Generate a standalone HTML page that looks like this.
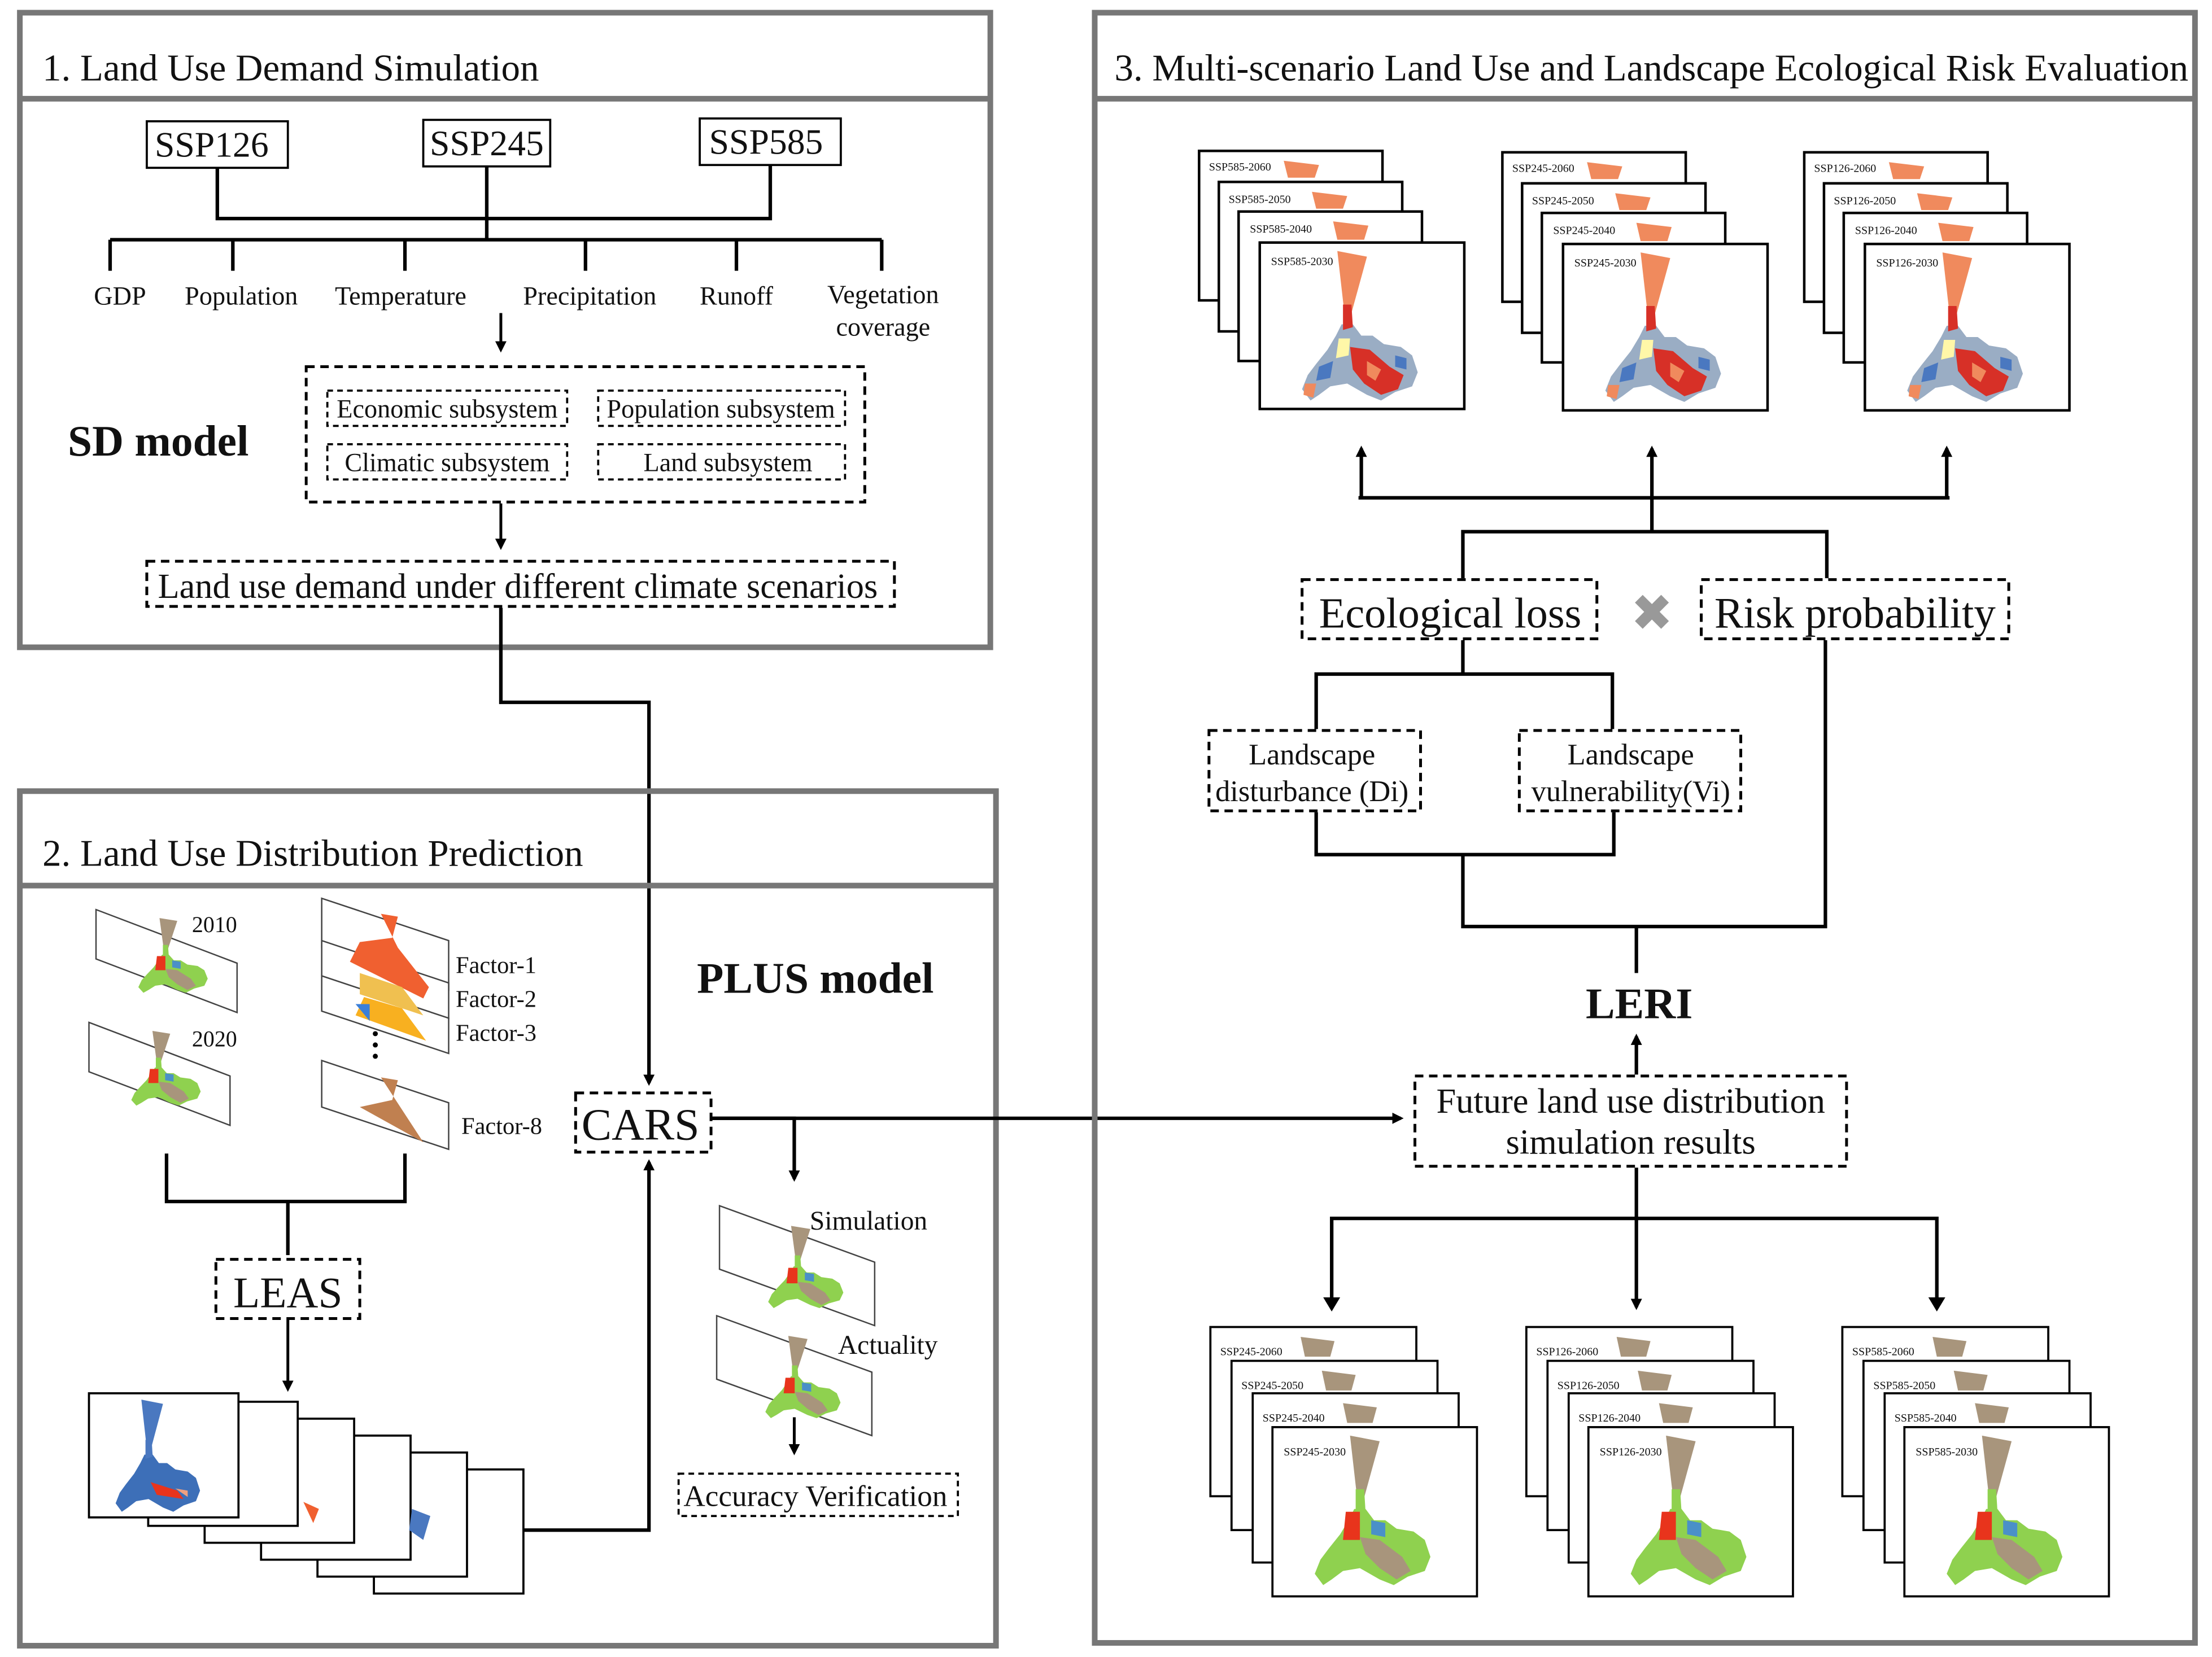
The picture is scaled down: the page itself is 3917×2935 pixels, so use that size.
<!DOCTYPE html>
<html><head><meta charset="utf-8"><style>
html,body{margin:0;padding:0;background:#fff}
svg{display:block}
text{font-family:"Liberation Serif",serif;fill:#111}
</style></head><body>
<svg width="3917" height="2935" viewBox="0 0 1568 1175" xmlns="http://www.w3.org/2000/svg">
<defs>
<marker id="ar" markerWidth="8" markerHeight="8" refX="6" refY="4" orient="auto" markerUnits="userSpaceOnUse"><path d="M0,0 L8,4 L0,8 z" fill="#000"/></marker>
<g id="riskmap">
<polygon points="55,6 76,10 65,50 60,50" fill="#f08a5d"/>
<path d="M58,58 L66,58 L72,66 L80,66 L88,72 L100,74 L108,80 L112,92 L108,102 L96,106 L86,112 L76,108 L62,100 L50,102 L42,108 L36,112 L30,104 L34,94 L40,86 L48,76 L54,66 Z" fill="#9aadc4"/>
<path d="M59,44 L65,44 L66,60 L59,62 Z" fill="#d73027"/>
<path d="M56,68 L64,68 L63,80 L54,82 Z" fill="#fff7a8"/>
<path d="M64,74 L78,76 L92,88 L102,94 L98,104 L86,108 L74,100 L66,90 Z" fill="#d73027"/>
<path d="M76,84 L86,90 L82,98 L76,94 Z" fill="#f08a5d"/>
<path d="M42,88 L52,84 L50,96 L40,98 Z" fill="#4a78c0"/>
<path d="M96,80 L104,82 L104,90 L96,88 Z" fill="#4a78c0"/>
<path d="M32,100 L40,100 L38,110 L31,108 Z" fill="#f08a5d"/>
</g>
<g id="lumap">
<polygon points="55,6 76,10 65,50 60,50" fill="#a8957c"/>
<path d="M58,58 L66,58 L72,66 L80,66 L88,72 L100,74 L108,80 L112,92 L108,102 L96,106 L86,112 L76,108 L62,100 L50,102 L42,108 L36,112 L30,104 L34,94 L40,86 L48,76 L54,66 Z" fill="#8fd14f"/>
<path d="M59,44 L65,44 L66,60 L59,62 Z" fill="#8fd14f"/>
<path d="M62,78 L76,80 L92,92 L98,102 L88,108 L76,100 L66,90 Z" fill="#a8957c"/>
<path d="M52,60 L62,60 L62,80 L50,80 Z" fill="#e8341c"/>
<path d="M70,66 L80,68 L80,78 L70,76 Z" fill="#4a90c8"/>
</g>
</defs>

<!-- Panel 1 -->
<rect x="14" y="9" width="688" height="450" fill="none" stroke="#777" stroke-width="4"/>
<line x1="14" y1="70" x2="702" y2="70" stroke="#777" stroke-width="4"/>
<text x="30" y="57" font-size="26.8">1. Land Use Demand Simulation</text>
<rect x="104" y="86" width="100" height="33" fill="none" stroke="#000" stroke-width="1.5"/>
<text x="150" y="111" font-size="25.5" text-anchor="middle">SSP126</text>
<rect x="300" y="85" width="90" height="33" fill="none" stroke="#000" stroke-width="1.5"/>
<text x="345" y="110" font-size="25.5" text-anchor="middle">SSP245</text>
<rect x="496" y="84" width="100" height="33" fill="none" stroke="#000" stroke-width="1.5"/>
<text x="543" y="109" font-size="25.5" text-anchor="middle">SSP585</text>
<g stroke="#000" stroke-width="2.5" fill="none">
<polyline points="154,119 154,155 546,155 546,117"/>
<line x1="345" y1="118" x2="345" y2="170"/>
<line x1="78" y1="170" x2="625" y2="170"/>
<line x1="78" y1="170" x2="78" y2="192"/>
<line x1="165" y1="170" x2="165" y2="192"/>
<line x1="287" y1="170" x2="287" y2="192"/>
<line x1="415" y1="170" x2="415" y2="192"/>
<line x1="522" y1="170" x2="522" y2="192"/>
<line x1="625" y1="170" x2="625" y2="192"/>
</g>
<g font-size="18.5" text-anchor="middle">
<text x="85" y="216">GDP</text><text x="171" y="216">Population</text><text x="284" y="216">Temperature</text>
<text x="418" y="216">Precipitation</text><text x="522" y="216">Runoff</text><text x="626" y="215">Vegetation</text><text x="626" y="238">coverage</text>
</g>
<line x1="355" y1="222" x2="355" y2="248" stroke="#000" stroke-width="2" marker-end="url(#ar)"/>
<rect x="217" y="260" width="396" height="96" fill="none" stroke="#000" stroke-width="2" stroke-dasharray="6,4"/>
<g fill="none" stroke="#000" stroke-width="1.5" stroke-dasharray="4,3">
<rect x="232" y="277" width="170" height="25"/><rect x="424" y="277" width="175" height="25"/>
<rect x="232" y="315" width="170" height="25"/><rect x="424" y="315" width="175" height="25"/>
</g>
<g font-size="18.5" text-anchor="middle">
<text x="317" y="296">Economic subsystem</text><text x="511" y="296">Population subsystem</text>
<text x="317" y="334">Climatic subsystem</text><text x="516" y="334">Land subsystem</text>
</g>
<text x="48" y="323" font-size="31" font-weight="bold">SD model</text>
<line x1="355" y1="357" x2="355" y2="388" stroke="#000" stroke-width="2" marker-end="url(#ar)"/>
<rect x="104" y="398" width="530" height="32" fill="none" stroke="#000" stroke-width="2" stroke-dasharray="6,4"/>
<text x="367" y="424" font-size="25" text-anchor="middle">Land use demand under different climate scenarios</text>
<polyline points="355,431 355,498 460,498 460,768" fill="none" stroke="#000" stroke-width="2.5" marker-end="url(#ar)"/>

<!-- Panel 2 -->
<rect x="14" y="561" width="692" height="606" fill="none" stroke="#777" stroke-width="4"/>
<line x1="14" y1="628" x2="706" y2="628" stroke="#777" stroke-width="4"/>
<text x="30" y="614" font-size="26.8">2. Land Use Distribution Prediction</text>
<text x="494" y="704" font-size="31" font-weight="bold">PLUS model</text>
<g stroke="#444" stroke-width="1" fill="#fff">
<polygon points="68,645 168,683 168,718 68,680"/>
<polygon points="63,725 163,763 163,798 63,760"/>
<polygon points="228,637 318,667 318,702 228,672"/>
<polygon points="228,667 318,697 318,722 228,692"/>
<polygon points="228,692 318,722 318,747 228,717"/>
<polygon points="228,752 318,782 318,815 228,785"/>
</g>
<g transform="translate(80,648) scale(0.6,0.5)"><use href="#lumap"/></g>
<g transform="translate(75,728) scale(0.6,0.5)"><use href="#lumap"/></g>
<path d="M270,648 L282,650 L278,665 L255,668 L248,682 L300,708 L304,700 L282,672 Z" fill="#f06030"/>
<path d="M255,690 L285,700 L300,720 L255,705 Z" fill="#f0c050"/>
<path d="M258,707 L285,715 L302,738 L252,720 Z" fill="#f8b020"/>
<path d="M252,712 L262,712 L262,724 Z" fill="#3b7fd8"/>
<path d="M270,764 L282,766 L278,780 L255,785 L300,810 Z" fill="#c08050"/>
<g font-size="16"><text x="136" y="661">2010</text><text x="136" y="742">2020</text></g>
<g font-size="17"><text x="323" y="690">Factor-1</text><text x="323" y="714">Factor-2</text><text x="323" y="738">Factor-3</text><text x="327" y="804">Factor-8</text></g>
<circle cx="266" cy="733" r="1.8" fill="#000"/><circle cx="266" cy="741" r="1.8" fill="#000"/><circle cx="266" cy="749" r="1.8" fill="#000"/>
<g stroke="#000" stroke-width="2.5" fill="none">
<polyline points="118,818 118,852 287,852 287,818"/>
<line x1="204" y1="852" x2="204" y2="890"/>
</g>
<rect x="153" y="893" width="102" height="42" fill="none" stroke="#000" stroke-width="2" stroke-dasharray="6,4"/>
<text x="204" y="927" font-size="31" text-anchor="middle">LEAS</text>
<line x1="204" y1="936" x2="204" y2="985" stroke="#000" stroke-width="2" marker-end="url(#ar)"/>
<g stroke="#000" stroke-width="1.5" fill="#fff">
<rect x="265" y="1042" width="106" height="88"/>
<rect x="225" y="1030" width="106" height="88"/>
<rect x="185" y="1018" width="106" height="88"/>
<rect x="145" y="1006" width="106" height="88"/>
<rect x="105" y="994" width="106" height="88"/>
<rect x="63" y="988" width="106" height="88"/>
</g>
<path d="M292,1070 L305,1075 L300,1092 L290,1085 Z" fill="#4a78c0"/>
<path d="M215,1065 L226,1070 L222,1080 Z" fill="#f06030"/>
<g transform="translate(60,988) scale(0.73,0.75)">
<polygon points="55,6 76,10 65,50 60,50" fill="#4a78c0"/>
<path d="M58,58 L66,58 L72,66 L80,66 L88,72 L100,74 L108,80 L112,92 L108,102 L96,106 L86,112 L76,108 L62,100 L50,102 L42,108 L36,112 L30,104 L34,94 L40,86 L48,76 L54,66 Z" fill="#3d6fb8"/>
<path d="M59,44 L65,44 L66,60 L59,62 Z" fill="#4a78c0"/>
<path d="M64,84 L90,92 L96,100 L70,96 Z" fill="#e8341c"/>
<path d="M88,90 L100,92 L100,98 Z" fill="#f0a080"/>
</g>
<polyline points="371,1085 460,1085 460,824" fill="none" stroke="#000" stroke-width="2.5" marker-end="url(#ar)"/>
<rect x="408" y="775" width="96" height="42" fill="none" stroke="#000" stroke-width="2" stroke-dasharray="6,4"/>
<text x="454" y="808" font-size="32" text-anchor="middle">CARS</text>
<line x1="505" y1="793" x2="993" y2="793" stroke="#000" stroke-width="2.5" marker-end="url(#ar)"/>
<polyline points="505,793 563,793 563,836" fill="none" stroke="#000" stroke-width="2.5" marker-end="url(#ar)"/>
<g stroke="#444" stroke-width="1" fill="#fff">
<polygon points="510,855 620,895 620,940 510,900"/>
<polygon points="508,933 618,973 618,1018 508,978"/>
</g>
<g transform="translate(525,866) scale(0.65,0.55)"><use href="#lumap"/></g>
<g transform="translate(523,944) scale(0.65,0.55)"><use href="#lumap"/></g>
<text x="574" y="872" font-size="19">Simulation</text>
<text x="594" y="960" font-size="19">Actuality</text>
<line x1="563" y1="1005" x2="563" y2="1030" stroke="#000" stroke-width="2" marker-end="url(#ar)"/>
<rect x="481" y="1045" width="198" height="30" fill="none" stroke="#000" stroke-width="1.5" stroke-dasharray="4,3"/>
<text x="578" y="1068" font-size="21.3" text-anchor="middle">Accuracy Verification</text>

<!-- Panel 3 -->
<rect x="776" y="9" width="780" height="1156" fill="none" stroke="#777" stroke-width="4"/>
<line x1="776" y1="70" x2="1556" y2="70" stroke="#777" stroke-width="4"/>
<text x="790" y="57" font-size="26.8">3. Multi-scenario Land Use and Landscape Ecological Risk Evaluation</text>

<g id="rs1">
<g stroke="#000" stroke-width="1.8" fill="#fff">
<rect x="850" y="107" width="130" height="106"/>
<rect x="864" y="129" width="130" height="106"/>
<rect x="878" y="150" width="130" height="106"/>
<rect x="893" y="172" width="145" height="118"/>
</g>
<polygon points="910,114 935,117 932,126 913,126" fill="#f08a5d"/>
<polygon points="930,136 955,139 952,148 933,148" fill="#f08a5d"/>
<polygon points="945,157 970,160 967,170 948,170" fill="#f08a5d"/>
<g transform="translate(893,172)"><use href="#riskmap"/></g>
</g>
<use href="#rs1" transform="translate(215,1)"/>
<use href="#rs1" transform="translate(429,1)"/>
<g font-size="8">
<text x="857" y="121">SSP585-2060</text><text x="871" y="144">SSP585-2050</text><text x="886" y="165">SSP585-2040</text><text x="901" y="188">SSP585-2030</text>
<text x="1072" y="122">SSP245-2060</text><text x="1086" y="145">SSP245-2050</text><text x="1101" y="166">SSP245-2040</text><text x="1116" y="189">SSP245-2030</text>
<text x="1286" y="122">SSP126-2060</text><text x="1300" y="145">SSP126-2050</text><text x="1315" y="166">SSP126-2040</text><text x="1330" y="189">SSP126-2030</text>
</g>
<g stroke="#000" stroke-width="2.5" fill="none">
<line x1="965" y1="353" x2="965" y2="318" marker-end="url(#ar)"/>
<line x1="1171" y1="377" x2="1171" y2="318" marker-end="url(#ar)"/>
<line x1="1380" y1="353" x2="1380" y2="318" marker-end="url(#ar)"/>
<line x1="963" y1="353" x2="1382" y2="353"/>
<polyline points="1037,410 1037,377 1295,377 1295,410"/>
</g>
<rect x="923" y="411" width="209" height="42" fill="none" stroke="#000" stroke-width="2" stroke-dasharray="6,4"/>
<text x="1028" y="445" font-size="30.6" text-anchor="middle">Ecological loss</text>
<text x="1171" y="447" font-size="36" text-anchor="middle" style="fill:#999">✖</text>
<rect x="1206" y="411" width="218" height="42" fill="none" stroke="#000" stroke-width="2" stroke-dasharray="6,4"/>
<text x="1315" y="445" font-size="30.8" text-anchor="middle">Risk probability</text>
<g stroke="#000" stroke-width="2.5" fill="none">
<line x1="1037" y1="454" x2="1037" y2="478"/>
<polyline points="933,517 933,478 1143,478 1143,517"/>
<polyline points="933,576 933,606 1144,606 1144,576"/>
<polyline points="1037,606 1037,657 1294,657 1294,454"/>
<line x1="1160" y1="657" x2="1160" y2="690"/>
</g>
<rect x="857" y="518" width="150" height="57" fill="none" stroke="#000" stroke-width="2" stroke-dasharray="6,4"/>
<text x="930" y="542" font-size="21" text-anchor="middle">Landscape</text>
<text x="930" y="568" font-size="21" text-anchor="middle">disturbance (Di)</text>
<rect x="1077" y="518" width="157" height="57" fill="none" stroke="#000" stroke-width="2" stroke-dasharray="6,4"/>
<text x="1156" y="542" font-size="21" text-anchor="middle">Landscape</text>
<text x="1156" y="568" font-size="21" text-anchor="middle">vulnerability(Vi)</text>
<text x="1162" y="722" font-size="31" font-weight="bold" text-anchor="middle">LERI</text>
<line x1="1160" y1="762" x2="1160" y2="735" stroke="#000" stroke-width="2.5" marker-end="url(#ar)"/>
<rect x="1003" y="763" width="306" height="64" fill="none" stroke="#000" stroke-width="2" stroke-dasharray="6,4"/>
<text x="1156" y="789" font-size="25" text-anchor="middle">Future land use distribution</text>
<text x="1156" y="818" font-size="25" text-anchor="middle">simulation results</text>
<g stroke="#000" stroke-width="2.5" fill="none">
<line x1="1160" y1="828" x2="1160" y2="927" marker-end="url(#ar)"/>
<polyline points="944,927 944,864 1373,864 1373,927"/>
</g>
<polygon points="938,920 950,920 944,930" fill="#000"/>
<polygon points="1367,920 1379,920 1373,930" fill="#000"/>

<g id="ls1">
<g stroke="#000" stroke-width="1.5" fill="#fff">
<rect x="858" y="941" width="146" height="120"/>
<rect x="873" y="965" width="146" height="120"/>
<rect x="888" y="988" width="146" height="120"/>
<rect x="902" y="1012" width="145" height="120"/>
</g>
<polygon points="922,948 946,951 943,962 925,962" fill="#a8957c"/>
<polygon points="937,972 961,975 958,986 940,986" fill="#a8957c"/>
<polygon points="952,995 976,998 973,1009 955,1009" fill="#a8957c"/>
<g transform="translate(902,1012)"><use href="#lumap"/></g>
</g>
<use href="#ls1" transform="translate(224,0)"/>
<use href="#ls1" transform="translate(448,0)"/>
<g font-size="8">
<text x="865" y="961">SSP245-2060</text><text x="880" y="985">SSP245-2050</text><text x="895" y="1008">SSP245-2040</text><text x="910" y="1032">SSP245-2030</text>
<text x="1089" y="961">SSP126-2060</text><text x="1104" y="985">SSP126-2050</text><text x="1119" y="1008">SSP126-2040</text><text x="1134" y="1032">SSP126-2030</text>
<text x="1313" y="961">SSP585-2060</text><text x="1328" y="985">SSP585-2050</text><text x="1343" y="1008">SSP585-2040</text><text x="1358" y="1032">SSP585-2030</text>
</g>
</svg>
</body></html>
